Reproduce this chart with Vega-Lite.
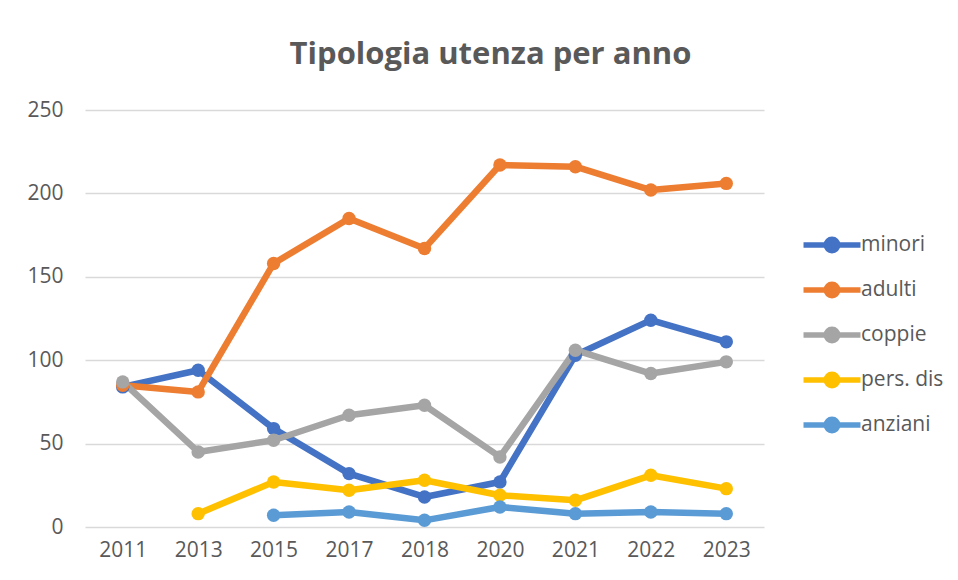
{
  "$schema": "https://vega.github.io/schema/vega-lite/v6.json",
  "width": 679,
  "height": 417,
  "autosize": {"type": "none"},
  "padding": {"left": 85, "top": 110, "right": 194, "bottom": 53},
  "background": "white",
  "title": {
    "text": "Tipologia utenza per anno",
    "font": "Open Sans",
    "fontSize": 31,
    "fontWeight": "bold",
    "color": "#595959",
    "anchor": "middle",
    "frame": "group",
    "dx": 66,
    "offset": 28
  },
  "config": {
    "view": {"stroke": null},
    "font": "Open Sans"
  },
  "data": {
    "values": [
      {"anno": "2011", "serie": "minori", "valore": 84},
      {"anno": "2013", "serie": "minori", "valore": 94},
      {"anno": "2015", "serie": "minori", "valore": 59},
      {"anno": "2017", "serie": "minori", "valore": 32},
      {"anno": "2018", "serie": "minori", "valore": 18},
      {"anno": "2020", "serie": "minori", "valore": 27},
      {"anno": "2021", "serie": "minori", "valore": 103},
      {"anno": "2022", "serie": "minori", "valore": 124},
      {"anno": "2023", "serie": "minori", "valore": 111},
      {"anno": "2011", "serie": "adulti", "valore": 85},
      {"anno": "2013", "serie": "adulti", "valore": 81},
      {"anno": "2015", "serie": "adulti", "valore": 158},
      {"anno": "2017", "serie": "adulti", "valore": 185},
      {"anno": "2018", "serie": "adulti", "valore": 167},
      {"anno": "2020", "serie": "adulti", "valore": 217},
      {"anno": "2021", "serie": "adulti", "valore": 216},
      {"anno": "2022", "serie": "adulti", "valore": 202},
      {"anno": "2023", "serie": "adulti", "valore": 206},
      {"anno": "2011", "serie": "coppie", "valore": 87},
      {"anno": "2013", "serie": "coppie", "valore": 45},
      {"anno": "2015", "serie": "coppie", "valore": 52},
      {"anno": "2017", "serie": "coppie", "valore": 67},
      {"anno": "2018", "serie": "coppie", "valore": 73},
      {"anno": "2020", "serie": "coppie", "valore": 42},
      {"anno": "2021", "serie": "coppie", "valore": 106},
      {"anno": "2022", "serie": "coppie", "valore": 92},
      {"anno": "2023", "serie": "coppie", "valore": 99},
      {"anno": "2013", "serie": "pers. dis", "valore": 8},
      {"anno": "2015", "serie": "pers. dis", "valore": 27},
      {"anno": "2017", "serie": "pers. dis", "valore": 22},
      {"anno": "2018", "serie": "pers. dis", "valore": 28},
      {"anno": "2020", "serie": "pers. dis", "valore": 19},
      {"anno": "2021", "serie": "pers. dis", "valore": 16},
      {"anno": "2022", "serie": "pers. dis", "valore": 31},
      {"anno": "2023", "serie": "pers. dis", "valore": 23},
      {"anno": "2015", "serie": "anziani", "valore": 7},
      {"anno": "2017", "serie": "anziani", "valore": 9},
      {"anno": "2018", "serie": "anziani", "valore": 4},
      {"anno": "2020", "serie": "anziani", "valore": 12},
      {"anno": "2021", "serie": "anziani", "valore": 8},
      {"anno": "2022", "serie": "anziani", "valore": 9},
      {"anno": "2023", "serie": "anziani", "valore": 8}
    ]
  },
  "encoding": {
    "x": {
      "field": "anno",
      "type": "ordinal",
      "sort": null,
      "scale": {"type": "point", "padding": 0.5},
      "axis": {
        "title": null,
        "labelAngle": 0,
        "labelFontSize": 21,
        "labelColor": "#595959",
        "labelPadding": 12,
        "ticks": false,
        "domain": false,
        "grid": false
      }
    },
    "y": {
      "field": "valore",
      "type": "quantitative",
      "scale": {"domain": [0, 250], "nice": false},
      "axis": {
        "title": null,
        "values": [0, 50, 100, 150, 200, 250],
        "labelFontSize": 21,
        "labelColor": "#595959",
        "labelPadding": 22,
        "ticks": false,
        "domain": false,
        "gridColor": "#D9D9D9",
        "gridWidth": 1.5
      }
    },
    "color": {
      "field": "serie",
      "type": "nominal",
      "sort": ["minori", "adulti", "coppie", "pers. dis", "anziani"],
      "scale": {
        "domain": ["minori", "adulti", "coppie", "pers. dis", "anziani"],
        "range": ["#4472C4", "#ED7D31", "#A5A5A5", "#FFC000", "#5B9BD5"]
      },
      "legend": {
        "title": null,
        "orient": "none",
        "legendX": 730,
        "legendY": 118,
        "symbolType": "M-2,0L2,0M-0.4,0A0.4,0.4 0 1,0 0.4,0A0.4,0.4 0 1,0 -0.4,0Z",
        "symbolSize": 812,
        "symbolStrokeWidth": 5.5,
        "labelFontSize": 21,
        "labelColor": "#595959",
        "labelOffset": 12,
        "rowPadding": 11,
        "encode": {
          "symbols": {
            "update": {
              "fill": {"scale": "color", "field": "value"},
              "stroke": {"scale": "color", "field": "value"},
              "fillOpacity": {"value": 1},
              "opacity": {"value": 1}
            }
          }
        }
      }
    }
  },
  "layer": [
    {
      "mark": {"type": "line", "strokeWidth": 6.5, "strokeCap": "round", "strokeJoin": "round"}
    },
    {
      "mark": {"type": "point", "filled": true, "size": 180, "opacity": 1, "shape": "circle"}
    }
  ]
}
